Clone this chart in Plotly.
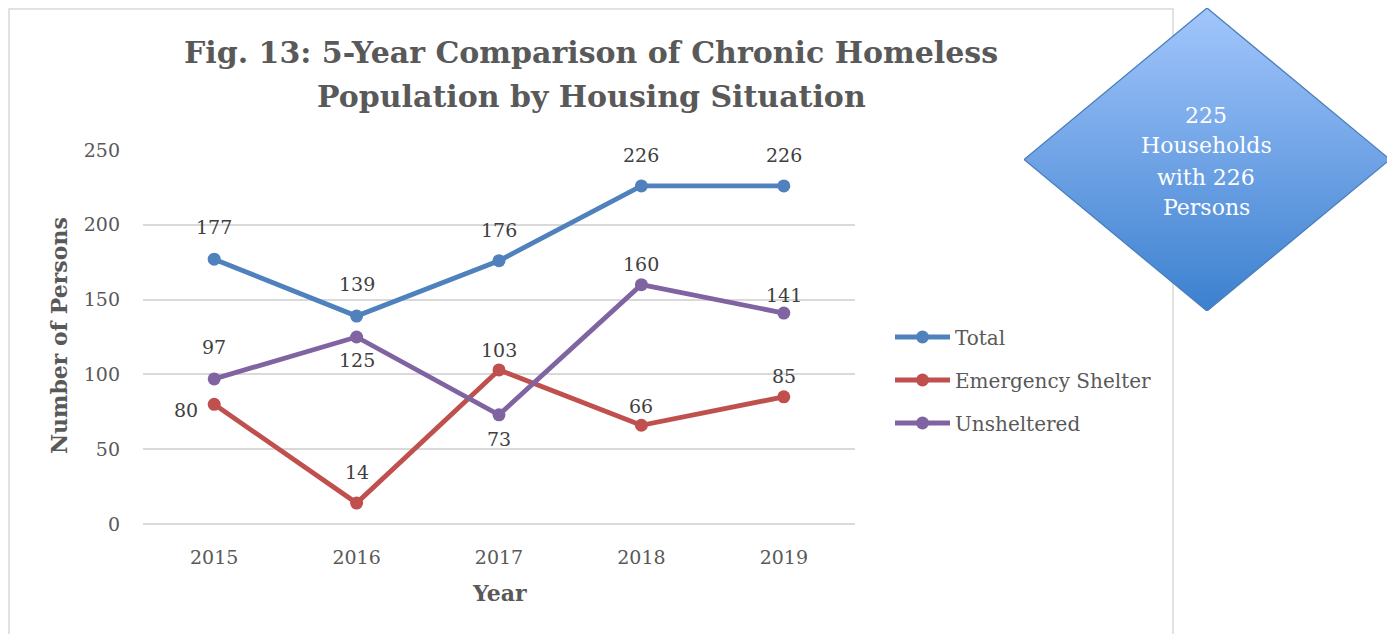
import plotly.graph_objects as go

years = ["2015", "2016", "2017", "2018", "2019"]
total = [177, 139, 176, 226, 226]
emergency_shelter = [80, 14, 103, 66, 85]
unsheltered = [97, 125, 73, 160, 141]

y_ticks = [0, 50, 100, 150, 200, 250]
callout_lines = ["225", "Households", "with 226", "Persons"]

# label placement per point (xshift, yshift) in px
total_shift = [(0, 32), (0, 32), (0, 31), (0, 31), (0, 31)]
es_shift = [(-28, -6), (0, 31), (0, 20), (0, 19), (0, 21)]
uns_shift = [(0, 32), (0, -23), (0, -24), (0, 21), (0, 18)]

# page body has an 8px margin, so the figure is drawn 8px smaller
OFF = 8
W, H = 1395 - OFF, 634 - OFF
FONT = "DejaVu Serif"


def px_x(x):
    return min(max((x - OFF) / W, 0), 1)


def px_y(y):
    return min(max(1 - (y - OFF) / H, 0), 1)


series = [
    ("Total", total, "#4f81bd", total_shift),
    ("Emergency Shelter", emergency_shelter, "#c0504d", es_shift),
    ("Unsheltered", unsheltered, "#8064a2", uns_shift),
]

fig = go.Figure()
annotations = []
for name, vals, color, shifts in series:
    fig.add_trace(go.Scatter(
        x=years, y=vals,
        mode="lines+markers", name=name,
        legendgroup=name,
        line=dict(color=color, width=4.8),
        marker=dict(color=color, size=13),
    ))
    for i, (v, (dx, dy)) in enumerate(zip(vals, shifts)):
        annotations.append(dict(
            x=i, y=v, xref="x", yref="y", text=str(v), showarrow=False,
            xanchor="center", yanchor="middle",
            xshift=dx, yshift=dy,
            font=dict(family=FONT, size=19, color="#404040"),
        ))

# diamond callout on its own axes
fig.add_trace(go.Scatter(
    x=[0, 1, 0, -1, 0], y=[1, 0, -1, 0, 1],
    xaxis="x2", yaxis="y2",
    mode="lines", fill="toself",
    line=dict(color="#4a7ebb", width=1.3),
    fillgradient=dict(type="vertical",
                      colorscale=[[0, "#3c80cf"], [1, "#a2c6fc"]]),
    showlegend=False, hoverinfo="skip",
))


def label(x, y, text, size, color="#595959", **kw):
    annotations.append(dict(
        x=px_x(x), y=px_y(y), xref="paper", yref="paper",
        text=text, showarrow=False, xanchor="center", yanchor="middle",
        font=dict(family=FONT, size=size, color=color), **kw,
    ))


label(591, 52, "<b>Fig. 13: 5-Year Comparison of Chronic Homeless</b>", 30)
label(591, 96, "<b>Population by Housing Situation</b>", 30)
label(59, 336, "<b>Number of Persons</b>", 22, textangle=-90)
label(499, 593, "<b>Year</b>", 22)
for i, line in enumerate(callout_lines):
    label(1206, 115 + 31 * i, line, 22, color="white")

fig.update_layout(
    template="none",
    width=W, height=H,
    margin=dict(l=0, r=0, t=0, b=0, pad=0),
    paper_bgcolor="white",
    plot_bgcolor="white",
    annotations=annotations,
    shapes=[dict(
        type="rect", xref="paper", yref="paper",
        x0=px_x(9), x1=px_x(1173), y0=-0.1, y1=px_y(9),
        line=dict(color="#d9d9d9", width=1.5), layer="below",
    )],
    legend=dict(
        x=px_x(890), y=px_y(380), xanchor="left", yanchor="middle",
        font=dict(family=FONT, size=20, color="#595959"),
        tracegroupgap=14, traceorder="grouped", itemwidth=55,
        bgcolor="rgba(0,0,0,0)",
    ),
    xaxis=dict(
        type="category", range=[-0.5, 4.5],
        domain=[px_x(143), px_x(855)],
        automargin=False,
        showgrid=False, showline=False, zeroline=False,
        ticks="", ticklabelstandoff=20,
        tickfont=dict(family=FONT, size=19, color="#595959"),
    ),
    yaxis=dict(
        domain=[px_y(524), px_y(150)],
        range=[0, 250], tickvals=y_ticks,
        automargin=False,
        showgrid=True, gridcolor="#d9d9d9", gridwidth=1.5,
        zeroline=True, zerolinecolor="#d9d9d9", zerolinewidth=1.5,
        showline=False, ticks="", ticklabelstandoff=22,
        tickfont=dict(family=FONT, size=19, color="#595959"),
    ),
    xaxis2=dict(domain=[px_x(1024), px_x(1390)], range=[-1, 1],
                visible=False, fixedrange=True, automargin=False),
    yaxis2=dict(domain=[px_y(311), px_y(8)], range=[-1, 1],
                visible=False, fixedrange=True, automargin=False),
)

fig.write_html("out.html")
